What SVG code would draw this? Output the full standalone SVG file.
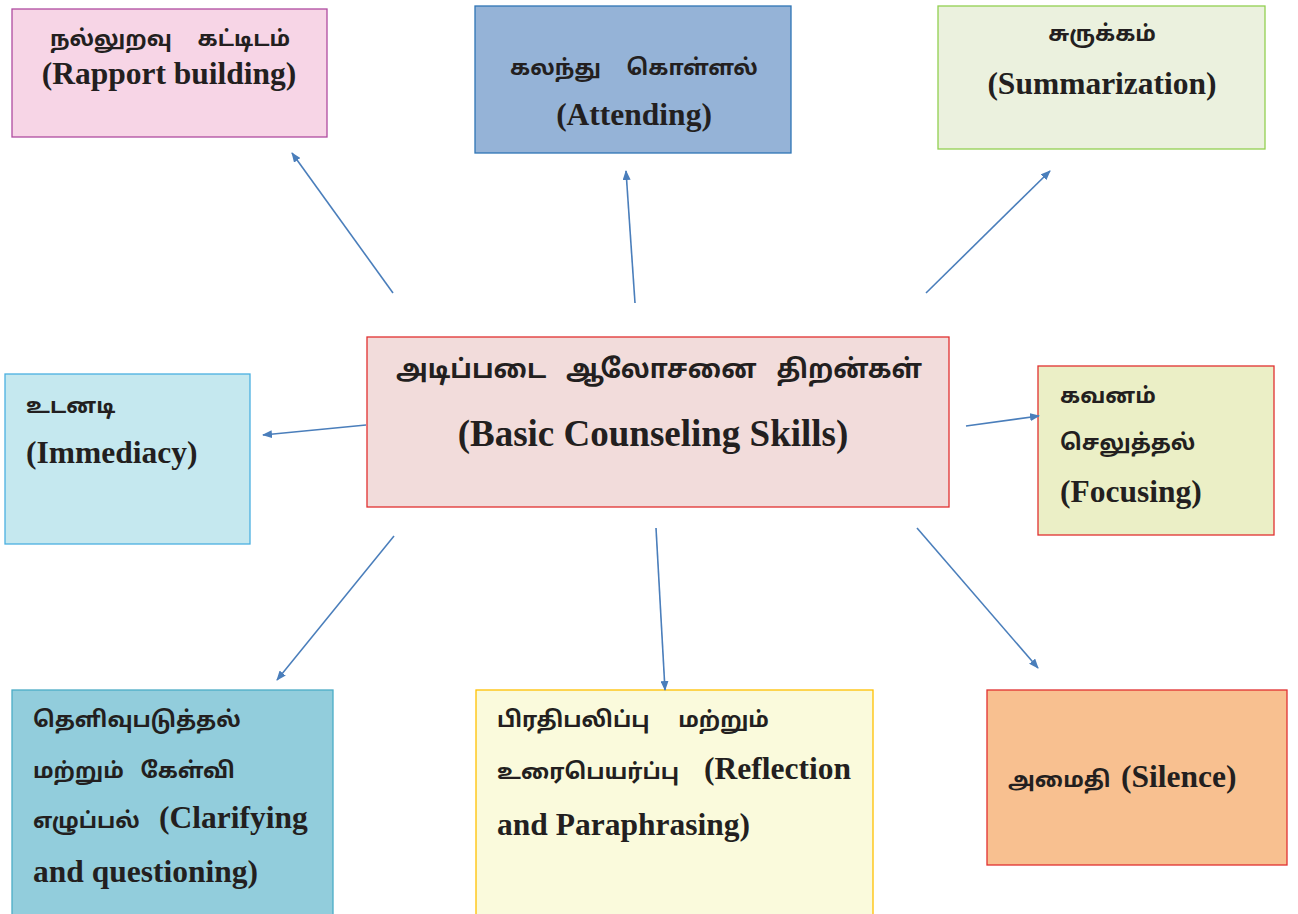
<svg xmlns="http://www.w3.org/2000/svg" width="1298" height="914" viewBox="0 0 1298 914">
<defs>
<marker id="ah" markerWidth="10" markerHeight="8" refX="9" refY="4" orient="auto" markerUnits="userSpaceOnUse">
<path d="M0,0 L10,4 L0,8 Z" fill="#4a7ebb"/>
</marker>
<style>
.ta{font-family:"Noto Sans Tamil","Lohit Tamil","Noto Sans","Latha",sans-serif;font-weight:bold;font-size:22px;fill:#231f20;word-spacing:12px}
.en{font-family:"Liberation Serif","Times New Roman",serif;font-weight:bold;font-size:31.5px;fill:#231f20}
.c{text-anchor:middle}
.conn line{stroke:#4a7ebb;stroke-width:1.6;fill:none;marker-end:url(#ah)}
</style>
</defs>
<rect width="1298" height="914" fill="#ffffff"/>
<g id="rapport">
<rect x="12" y="9" width="315" height="128" fill="#f7d5e6" stroke="#b04ca0" stroke-width="1.3"/>
<text class="ta c" x="170" y="46" style="word-spacing:20px">நல்லுறவு கட்டிடம்</text>
<text class="en c" x="169" y="84">(Rapport building)</text>
</g>
<g id="attending">
<rect x="475" y="6" width="316" height="147" fill="#95b3d7" stroke="#2f75b5" stroke-width="1.3"/>
<text class="ta c" x="634" y="75" style="word-spacing:20px">கலந்து கொள்ளல்</text>
<text class="en c" x="634" y="125">(Attending)</text>
</g>
<g id="summarization">
<rect x="938" y="6" width="327" height="143" fill="#ebf1de" stroke="#92d050" stroke-width="1.3"/>
<text class="ta c" x="1102" y="41">சுருக்கம்</text>
<text class="en c" x="1102" y="94">(Summarization)</text>
</g>
<g id="center">
<rect x="367" y="337" width="582" height="170" fill="#f2dcdb" stroke="#e03030" stroke-width="1.3"/>
<text class="ta c" x="659" y="378" style="font-size:26px;word-spacing:13px">அடிப்படை ஆலோசனை திறன்கள்</text>
<text class="en c" x="653" y="446" style="font-size:37px">(Basic Counseling Skills)</text>
</g>
<g id="focusing">
<rect x="1038" y="366" width="236" height="169" fill="#ebefc6" stroke="#e03030" stroke-width="1.3"/>
<text class="ta" x="1060" y="403">கவனம்</text>
<text class="ta" x="1060" y="450">செலுத்தல்</text>
<text class="en" x="1060" y="502">(Focusing)</text>
</g>
<g id="immediacy">
<rect x="5" y="374" width="245" height="170" fill="#c5e8ef" stroke="#4ab0e0" stroke-width="1.3"/>
<text class="ta" x="26" y="413">உடனடி</text>
<text class="en" x="26" y="463">(Immediacy)</text>
</g>
<g id="clarifying">
<rect x="12" y="690" width="321" height="230" fill="#92cddc" stroke="#4bacc6" stroke-width="1.3"/>
<text class="ta" x="33" y="727">தெளிவுபடுத்தல்</text>
<text class="ta" x="33" y="778" style="word-spacing:11px">மற்றும் கேள்வி</text>
<text x="33" y="828"><tspan class="ta">எழுப்பல்</tspan><tspan class="en" x="159">(Clarifying</tspan></text>
<text class="en" x="33" y="882">and questioning)</text>
</g>
<g id="reflection">
<rect x="476" y="690" width="397" height="230" fill="#fafadc" stroke="#ffc000" stroke-width="1.3"/>
<text class="ta" x="497" y="727" style="word-spacing:23px">பிரதிபலிப்பு மற்றும்</text>
<text x="497" y="779"><tspan class="ta">உரைபெயர்ப்பு</tspan><tspan class="en" x="704">(Reflection</tspan></text>
<text class="en" x="497" y="835">and Paraphrasing)</text>
</g>
<g id="silence">
<rect x="987" y="690" width="300" height="175" fill="#f8c090" stroke="#e03030" stroke-width="1.3"/>
<text x="1008" y="787"><tspan class="ta">அமைதி</tspan><tspan class="en" x="1121">(Silence)</tspan></text>
</g>
<g id="connectors" class="conn">
<line x1="393" y1="293" x2="292" y2="153"/>
<line x1="635" y1="303" x2="626" y2="171"/>
<line x1="926" y1="293" x2="1050" y2="171"/>
<line x1="366" y1="425" x2="263" y2="435"/>
<line x1="966" y1="426" x2="1039" y2="416"/>
<line x1="394" y1="536" x2="277" y2="680"/>
<line x1="656" y1="528" x2="665" y2="690"/>
<line x1="917" y1="528" x2="1038" y2="668"/>
</g>
</svg>
